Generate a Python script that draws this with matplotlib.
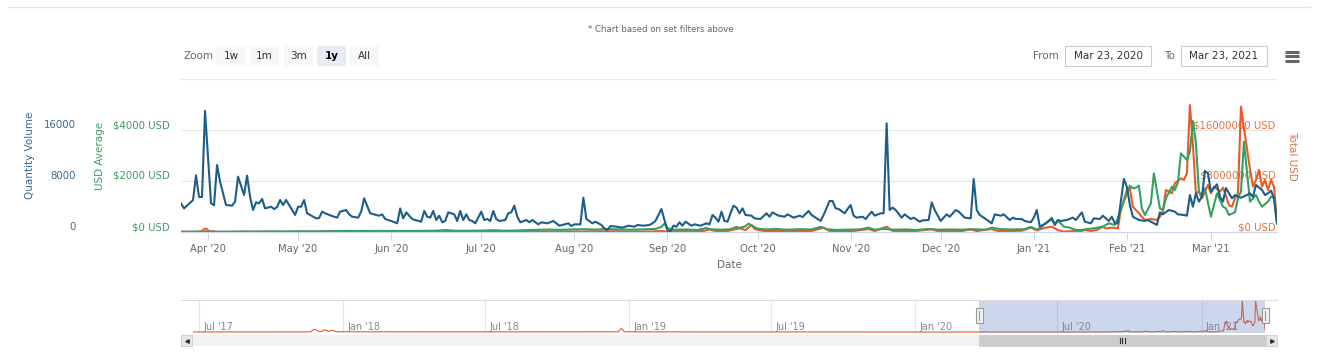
import numpy as np
import pandas as pd
import matplotlib
matplotlib.use("Agg")
import matplotlib.pyplot as plt
import matplotlib.dates as mdates
from matplotlib.patches import Rectangle

plt.rcParams['font.family'] = ['DejaVu Sans']

START = pd.Timestamp("2020-03-23")
END = pd.Timestamp("2021-03-23")
NAV_START = pd.Timestamp("2017-06-23")

# (day offset from START, value)
qty_points = [
    (0, 4500), (1, 3700), (4, 5000), (5, 8900), (6, 5500), (7, 5500), (8, 19000), (10, 4500),
    (11, 4200), (12, 10500), (13, 7900), (15, 4240), (17, 4130), (18, 4760), (19, 8680), (21, 5800),
    (22, 8840), (23, 5540), (24, 3450), (25, 4650), (26, 4500), (27, 5180), (28, 3700), (30, 3970),
    (31, 3600), (32, 3900), (33, 5020), (34, 4240), (35, 5020), (37, 3450), (38, 2670), (39, 3970),
    (40, 3970), (41, 5020), (42, 2930), (43, 2670), (45, 2140), (46, 2200), (47, 3190), (48, 2930),
    (50, 2560), (52, 2250), (53, 3190), (55, 3450), (56, 2770), (57, 2400), (59, 2250), (60, 3200),
    (61, 5280), (63, 2930), (65, 2670), (66, 2560), (67, 2770), (68, 2040), (70, 1730), (72, 1360),
    (73, 3700), (74, 2140), (75, 3080), (77, 2040), (78, 1880), (80, 1620), (81, 3300), (82, 2400),
    (83, 2250), (84, 3300), (85, 1880), (86, 2560), (87, 1520), (88, 1730), (89, 3080), (91, 2770),
    (92, 1730), (93, 3300), (94, 1880), (95, 2770), (96, 1880), (97, 1730), (98, 1360), (100, 3190),
    (101, 1880), (102, 2040), (103, 1730), (104, 3300), (105, 2040), (106, 1730), (108, 1880), (109, 2930),
    (110, 3080), (111, 4130), (112, 2400), (113, 1520), (115, 1880), (116, 1520), (117, 1880), (119, 1200),
    (120, 1520), (122, 1360), (124, 1730), (126, 990), (127, 1100), (129, 1360), (130, 940), (131, 1200),
    (133, 1200), (134, 5390), (135, 2040), (137, 1360), (138, 1620), (140, 1100), (141, 575), (142, 310),
    (143, 940), (145, 840), (147, 680), (149, 990), (151, 840), (152, 1100), (154, 990), (156, 1100),
    (157, 1360), (158, 1730), (160, 3610), (161, 1880), (162, 310), (163, 50), (164, 990), (165, 840),
    (166, 1520), (167, 990), (168, 1620), (170, 990), (171, 1200), (173, 990), (175, 1360), (176, 1200),
    (177, 2670), (178, 2250), (179, 1620), (180, 3190), (181, 1730), (182, 1620), (183, 2930), (184, 4130),
    (185, 3820), (186, 2930), (187, 3710), (188, 2670), (190, 2560), (191, 2140), (193, 2040), (195, 2930),
    (196, 2400), (197, 3080), (199, 2560), (201, 2400), (202, 2770), (204, 2250), (206, 2560), (207, 2350),
    (209, 3300), (210, 2670), (212, 2040), (213, 1730), (214, 2670), (216, 4860), (217, 4860), (218, 3710),
    (219, 3610), (221, 2930), (222, 3610), (223, 4240), (224, 2560), (225, 2250), (227, 2400), (228, 2040),
    (230, 3190), (231, 2560), (233, 2930), (234, 2930), (235, 17050), (236, 3450), (237, 3820), (238, 3450),
    (240, 2250), (241, 2770), (243, 2040), (244, 2250), (246, 1620), (247, 1830), (249, 1880), (250, 4650),
    (251, 3450), (253, 1730), (255, 2770), (256, 2400), (258, 3450), (259, 3190), (261, 2250), (263, 2140),
    (264, 8320), (265, 3450), (266, 2670), (268, 2040), (270, 1360), (271, 2770), (273, 2560), (274, 2770),
    (276, 1880), (277, 2250), (278, 2040), (280, 2040), (281, 1730), (283, 1520), (284, 2250), (285, 3450),
    (286, 840), (288, 1360), (290, 2040), (291, 1100), (292, 1880), (293, 1730), (295, 1880), (297, 2250),
    (298, 1880), (300, 3080), (301, 1620), (303, 1360), (304, 2140), (306, 2040), (307, 2560), (309, 1730),
    (310, 2400), (311, 1360), (312, 1360), (314, 8320), (315, 7110), (316, 4240), (317, 2400), (319, 1880),
    (321, 1730), (322, 1880), (324, 1360), (325, 1100), (326, 3080), (327, 2770), (329, 3450), (331, 3190),
    (332, 2770), (334, 2670), (335, 2560), (336, 5800), (337, 3970), (338, 6070), (339, 4760), (340, 5540),
    (341, 9570), (342, 9200), (343, 6330), (345, 7480), (346, 5540), (347, 4760), (348, 6900), (349, 6070),
    (350, 5280), (351, 5800), (352, 5540), (353, 5380), (355, 5800), (356, 6070), (357, 5540), (358, 7370),
    (360, 6590), (361, 5800), (362, 6070), (363, 6490), (364, 5280), (365, 1360),
]

avg_points = [
    (0, 10), (5, 12), (10, 15), (15, 10), (20, 20), (25, 18), (30, 25), (35, 22), (40, 30), (45, 28),
    (50, 35), (55, 40), (60, 38), (65, 45), (70, 42), (75, 40), (80, 45), (85, 50), (88, 75), (92, 45),
    (100, 55), (104, 70), (108, 50), (112, 60), (118, 80), (122, 95), (126, 85), (130, 100), (134, 110),
    (138, 95), (142, 120), (146, 100), (150, 90), (155, 110), (158, 120), (160, 200), (161, 330), (162, 150),
    (164, 90), (168, 100), (172, 80), (175, 160), (176, 110), (180, 90), (183, 110), (185, 200), (186, 160),
    (188, 220), (189, 330), (190, 260), (192, 130), (195, 100), (198, 120), (202, 90), (206, 110), (210, 100),
    (213, 200), (215, 110), (218, 80), (222, 90), (226, 100), (229, 170), (231, 90), (234, 120), (237, 90),
    (241, 100), (245, 80), (249, 120), (252, 90), (256, 100), (260, 90), (264, 110), (268, 90), (270, 170),
    (273, 110), (277, 100), (281, 110), (283, 200), (285, 100), (286, 150), (288, 340), (290, 560), (291, 300),
    (292, 450), (294, 210), (296, 170), (298, 78), (300, 78), (302, 118), (304, 144), (307, 209), (309, 340),
    (311, 275), (312, 536), (314, 1190), (316, 1817), (317, 1712), (318, 1738), (319, 1817), (320, 928),
    (321, 667), (323, 1124), (324, 2300), (326, 928), (327, 863), (328, 1320), (330, 1778), (331, 1647),
    (332, 1947), (333, 3085), (335, 2823), (336, 3150), (337, 4352), (338, 3477), (339, 1581), (340, 1451),
    (341, 1712), (343, 601), (344, 1059), (345, 1516), (347, 993), (348, 928), (349, 667), (351, 771),
    (352, 1320), (353, 1581), (354, 3542), (355, 2366), (356, 1190), (358, 1451), (359, 1190), (360, 993),
    (362, 1190), (363, 1385), (364, 1320), (365, 340),
]

tot_points = [
    (0, 30e3), (5, 25e3), (8, 210e3), (12, 20e3), (20, 30e3), (30, 25e3), (40, 35e3), (50, 30e3),
    (60, 40e3), (70, 35e3), (80, 45e3), (90, 40e3), (100, 50e3), (110, 45e3), (120, 60e3), (126, 80e3),
    (132, 70e3), (138, 100e3), (144, 120e3), (150, 60e3), (156, 80e3), (160, 150e3), (162, 60e3),
    (166, 150e3), (170, 160e3), (174, 150e3), (176, 420e3), (178, 150e3), (182, 160e3), (186, 575e3),
    (188, 300e3), (190, 1.1e6), (191, 470e3), (194, 160e3), (198, 150e3), (202, 170e3), (206, 150e3),
    (210, 160e3), (214, 680e3), (216, 170e3), (220, 150e3), (224, 160e3), (229, 470e3), (231, 150e3),
    (235, 837e3), (237, 160e3), (241, 150e3), (245, 170e3), (250, 420e3), (252, 150e3), (256, 160e3),
    (260, 150e3), (263, 420e3), (265, 150e3), (270, 470e3), (272, 150e3), (276, 160e3), (280, 200e3),
    (283, 680e3), (285, 260e3), (288, 680e3), (290, 837e3), (292, 314e3), (294, 52e3), (297, 157e3),
    (299, 52e3), (301, 314e3), (303, 157e3), (305, 314e3), (307, 837e3), (308, 575e3), (310, 680e3),
    (312, 575e3), (313, 3.45e6), (315, 6.59e6), (316, 6.85e6), (317, 3.97e6), (318, 3.45e6), (320, 2.41e6),
    (321, 1.88e6), (323, 2.04e6), (325, 1.88e6), (326, 2.41e6), (327, 3.19e6), (328, 6.59e6), (330, 6.07e6),
    (331, 7.64e6), (333, 8.42e6), (334, 8.16e6), (335, 9.2e6), (336, 19.9e6), (337, 13.65e6), (338, 6.07e6),
    (339, 6.33e6), (340, 5.28e6), (342, 7.37e6), (343, 6.07e6), (344, 7.11e6), (346, 6.33e6), (347, 6.96e6),
    (348, 5.7e6), (349, 4.24e6), (350, 3.97e6), (351, 5.28e6), (352, 6.07e6), (353, 19.66e6), (354, 16.27e6),
    (356, 9.88e6), (357, 7.11e6), (358, 8.16e6), (359, 9.73e6), (360, 7.11e6), (361, 8.16e6), (362, 6.59e6),
    (363, 8.16e6), (364, 7.11e6), (365, 1.62e6),
]
tot_marker_day = 8

# Total USD history shown in the navigator before the selected year
nav_history = [
    ("2017-06-23", 50e3), ("2017-08-01", 60e3), ("2017-10-01", 80e3), ("2017-11-20", 100e3),
    ("2017-11-25", 1.8e6), ("2017-11-30", 600e3), ("2017-12-04", 300e3), ("2017-12-08", 1.5e6),
    ("2017-12-13", 400e3), ("2017-12-18", 1.2e6), ("2017-12-23", 200e3), ("2018-02-01", 150e3),
    ("2018-05-01", 100e3), ("2018-08-01", 120e3), ("2018-11-01", 100e3), ("2018-12-18", 150e3),
    ("2018-12-22", 2.4e6), ("2018-12-26", 150e3), ("2019-04-01", 80e3), ("2019-08-01", 100e3),
    ("2019-12-01", 60e3), ("2020-03-20", 40e3),
]

BLUE = "#1d5e89"
GREEN = "#35a062"
ORANGE = "#ea5a24"


def to_dates(points):
    days, vals = zip(*points)
    return START + pd.to_timedelta(list(days), unit="D"), np.array(vals, dtype=float)


qx, qy = to_dates(qty_points)
ax_, ay = to_dates(avg_points)
tx, ty = to_dates(tot_points)

W, H = 1318, 358
fig = plt.figure(figsize=(W / 100, H / 100), dpi=100)
fig.patch.set_facecolor("white")

rect = [181 / W, 1 - 232 / H, 1096 / W, 153 / H]
ax_q = fig.add_axes(rect)
ax_avg = ax_q.twinx()
ax_tot = ax_q.twinx()
ax_tot.set_zorder(1)
ax_avg.set_zorder(2)
ax_q.set_zorder(3)
ax_q.patch.set_visible(False)

for a in (ax_q, ax_avg, ax_tot):
    for s in a.spines.values():
        s.set_visible(False)
ax_q.spines["bottom"].set_visible(True)
ax_q.spines["bottom"].set_color("#ccd6eb")

# Total USD (right, inside labels + grid)
ax_tot.plot(tx, ty, color=ORANGE, lw=1.5, zorder=3)
mi = tot_points.index(next(p for p in tot_points if p[0] == tot_marker_day))
ax_tot.plot(tx[mi], ty[mi], "o", ms=4.5, mfc="#f0a080", mec=ORANGE, mew=1, zorder=4)
ax_tot.set_ylim(0, 24e6)
ax_tot.set_yticks([0, 8e6, 16e6, 24e6], ["$0 USD", "$8000000 USD", "$16000000 USD", ""])
ax_tot.tick_params(axis="y", length=0, pad=-1, labelsize=7.3, labelcolor="#e2703e")
plt.setp(ax_tot.get_yticklabels(), ha="right", va="bottom")
ax_tot.grid(axis="y", color="#e6e6e6", lw=0.8)
ax_tot.set_ylabel("Total USD", color="#e2703e", fontsize=7.5, rotation=270, va="center")
ax_tot.yaxis.set_label_coords(1 + 15 / 1096, 0.5)

# USD Average (second left axis)
ax_avg.plot(ax_, ay, color=GREEN, lw=1.5)
ax_avg.set_ylim(0, 6000)
ax_avg.yaxis.tick_left()
ax_avg.yaxis.set_label_position("left")
ax_avg.set_yticks([0, 2000, 4000, 6000], ["$0 USD", "$2000 USD", "$4000 USD", ""])
ax_avg.tick_params(axis="y", length=0, pad=8, labelsize=7.3, labelcolor="#3f9a62")
plt.setp(ax_avg.get_yticklabels(), va="bottom")
ax_avg.set_ylabel("USD Average", color="#3f9a62", fontsize=7.5, va="center")
ax_avg.yaxis.set_label_coords(-81 / 1096, 0.5)

# Quantity Volume
ax_q.plot(qx, qy, color=BLUE, lw=1.5)
ax_q.set_ylim(0, 24000)
ax_q.set_yticks([0, 8000, 16000, 24000], ["0", "8000", "16000", ""])
ax_q.tick_params(axis="y", length=0, pad=76, labelsize=7.3, labelcolor="#3a6890")
plt.setp(ax_q.get_yticklabels(), va="bottom")
ax_q.set_ylabel("Quantity Volume", color="#3a6890", fontsize=7.5, va="center")
ax_q.yaxis.set_label_coords(-151 / 1096, 0.5)

ax_q.set_xlim(START, END)
ax_q.xaxis.set_major_locator(mdates.MonthLocator())
ax_q.xaxis.set_major_formatter(mdates.DateFormatter("%b '%y"))
ax_q.tick_params(axis="x", length=6, color="#ccd6eb", labelsize=7.2, labelcolor="#666666", pad=3)
ax_q.set_xlabel("Date", fontsize=7.5, color="#666666", va="center")
ax_q.xaxis.set_label_coords(0.5, -33 / 153)

# navigator
nav = fig.add_axes([193 / W, 1 - 333 / H, 1072 / W, 33 / H])
nd = pd.to_datetime([d for d, _ in nav_history])
nv = np.array([v for _, v in nav_history])
nav_x = nd.append(tx)
nav_y = np.concatenate([nv, ty])
nav.plot(nav_x, nav_y, color=ORANGE, lw=0.8, zorder=2)
nav.set_xlim(NAV_START, END)
nav.set_ylim(-0.03 * nav_y.max(), nav_y.max() * 1.02)
nav.axvspan(START, END, color="#6685c2", alpha=0.32, lw=0, zorder=3)
nav.xaxis.set_major_locator(mdates.MonthLocator(bymonth=[1, 7]))
nav.grid(axis="x", color="#e6e6e6", lw=0.8, zorder=0)
nav.tick_params(length=0, labelbottom=False, labelleft=False)
nav.set_yticks([])
for s in nav.spines.values():
    s.set_visible(False)
for t in pd.date_range("2017-07-01", "2021-01-01", freq="6MS"):
    nav.annotate(t.strftime("%b '%y"), (mdates.date2num(t), 0.18),
                 xycoords=nav.get_xaxis_transform(), xytext=(3, 0), textcoords="offset points",
                 ha="left", va="center", fontsize=7, color="#888888", zorder=1)

# overlay in pixel coordinates for page chrome
ov = fig.add_axes([0, 0, 1, 1])
ov.set_xlim(0, W)
ov.set_ylim(H, 0)
ov.axis("off")
ov.set_zorder(10)

ov.plot([8, 1310], [7, 7], color="#e3e3e3", lw=1)
ov.text(661, 29, "* Chart based on set filters above", ha="center", va="center", fontsize=6.2, color="#666666")

ov.text(183, 56, "Zoom", ha="left", va="center", fontsize=7.5, color="#666666")
buttons = [("1w", 216, 246), ("1m", 250, 279), ("3m", 284, 313), ("1y", 317, 346), ("All", 350, 379)]
for lab, x0, x1 in buttons:
    sel = lab == "1y"
    ov.add_patch(Rectangle((x0, 46), x1 - x0, 20, fc="#e6ebf5" if sel else "#f7f7f7", ec="none"))
    ov.text((x0 + x1) / 2, 56, lab, ha="center", va="center", fontsize=7.5,
            color="#000000" if sel else "#333333", fontweight="bold" if sel else "normal")

ov.text(1059, 56, "From", ha="right", va="center", fontsize=7.5, color="#666666")
ov.text(1175, 56, "To", ha="right", va="center", fontsize=7.5, color="#666666")
for x0, x1, lab in [(1065, 1151, "Mar 23, 2020"), (1181, 1267, "Mar 23, 2021")]:
    ov.add_patch(Rectangle((x0, 46), x1 - x0, 20, fc="white", ec="#cccccc", lw=0.8))
    ov.text((x0 + x1) / 2, 56, lab, ha="center", va="center", fontsize=7.5, color="#333333")
for yy in (51.5, 56, 60.5):
    ov.plot([1285, 1299], [yy, yy], color="#666666", lw=2.2, solid_capstyle="butt")

# navigator outline + scrollbar
ov.plot([181, 1277], [300, 300], color="#dddddd", lw=0.8)


def px(d):
    return nav.transData.transform((mdates.date2num(d), 0))[0]


bx0, bx1 = px(START), px(END)
for x in (bx0, bx1):
    ov.add_patch(Rectangle((x - 3.5, 308), 7, 15, fc="#f2f2f2", ec="#999999", lw=0.8, zorder=5))
    ov.plot([x, x], [311, 320], color="#999999", lw=0.8, zorder=6)

ov.add_patch(Rectangle((181, 335), 1096, 11, fc="#f2f2f2", ec="none"))
ov.add_patch(Rectangle((181, 335), 11, 11, fc="#e6e6e6", ec="#cccccc", lw=0.6))
ov.add_patch(Rectangle((1266, 335), 11, 11, fc="#e6e6e6", ec="#cccccc", lw=0.6))
ov.plot(186.5, 340.5, marker="<", ms=2.5, color="#333333")
ov.plot(1271.5, 340.5, marker=">", ms=2.5, color="#333333")
ov.add_patch(Rectangle((bx0, 335), bx1 - bx0, 11, fc="#cccccc", ec="#cccccc", lw=0.6))
cx = (bx0 + bx1) / 2
for dx in (-2.5, 0, 2.5):
    ov.plot([cx + dx, cx + dx], [338, 343], color="#333333", lw=0.8)

fig.savefig("out.png", dpi=100, facecolor="white")
